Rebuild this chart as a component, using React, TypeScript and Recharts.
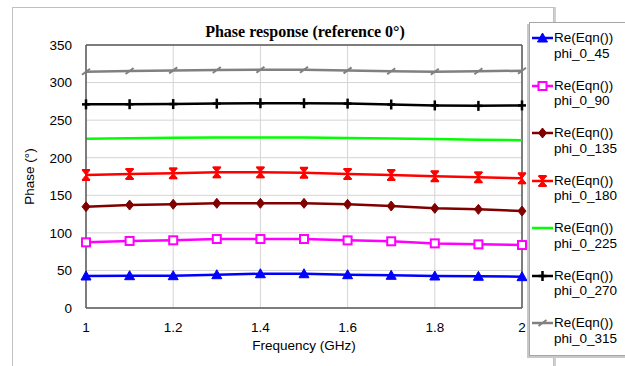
import React from 'react';
import { LineChart, Line, XAxis, YAxis, CartesianGrid, Legend, ReferenceLine } from 'recharts';

const freq = [1, 1.1, 1.2, 1.3, 1.4, 1.5, 1.6, 1.7, 1.8, 1.9, 2];
const phi45 = [42.6, 43, 43, 44.3, 45.6, 45.6, 44.3, 43.5, 42.6, 42.2, 41.7];
const phi90 = [87.4, 89.2, 90.1, 91.8, 91.8, 91.8, 90, 88.8, 86, 84.7, 83.8];
const phi135 = [134.8, 137, 138, 139.3, 139.3, 139.3, 138, 135.7, 132.6, 131.3, 129];
const phi180 = [177, 178.3, 179.2, 180.5, 180.5, 180, 178.3, 177, 175.3, 173.9, 172.6];
const phi225 = [225.3, 226, 226.6, 227, 227, 226.8, 226.3, 225.5, 224.8, 224, 223.2];
const phi270 = [271, 271.2, 271.4, 272, 272.5, 272.5, 272, 270.8, 269.6, 269, 269.6];
const phi315 = [314.5, 315.4, 316.2, 316.7, 317.1, 317.1, 316.2, 315, 314.5, 315, 315.8];

const xTicks = [1, 1.2, 1.4, 1.6, 1.8, 2];
const yTicks = [0, 50, 100, 150, 200, 250, 300, 350];

const data = freq.map((f, i) => ({
  f,
  phi_0_45: phi45[i],
  phi_0_90: phi90[i],
  phi_0_135: phi135[i],
  phi_0_180: phi180[i],
  phi_0_225: phi225[i],
  phi_0_270: phi270[i],
  phi_0_315: phi315[i],
}));

type Shape = 'triangle' | 'square' | 'diamond' | 'hourglass' | 'none' | 'plus' | 'slash';

const series: { key: string; color: string; shape: Shape }[] = [
  { key: 'phi_0_45', color: '#0000ff', shape: 'triangle' },
  { key: 'phi_0_90', color: '#ff00ff', shape: 'square' },
  { key: 'phi_0_135', color: '#800000', shape: 'diamond' },
  { key: 'phi_0_180', color: '#ff0000', shape: 'hourglass' },
  { key: 'phi_0_225', color: '#00ff00', shape: 'none' },
  { key: 'phi_0_270', color: '#000000', shape: 'plus' },
  { key: 'phi_0_315', color: '#808080', shape: 'slash' },
];

const font = '"Liberation Sans", Arial, sans-serif';

function marker(shape: Shape, color: string, cx: number, cy: number, key?: any) {
  switch (shape) {
    case 'triangle':
      return <path key={key} d={`M${cx - 5},${cy + 4} L${cx + 5},${cy + 4} L${cx},${cy - 5} Z`} fill={color} stroke={color} strokeWidth={1} />;
    case 'square':
      return <rect key={key} x={cx - 4} y={cy - 4} width={8} height={8} fill="#fff" stroke={color} strokeWidth={2} />;
    case 'diamond':
      return <path key={key} d={`M${cx},${cy - 5} L${cx + 4},${cy} L${cx},${cy + 5} L${cx - 4},${cy} Z`} fill={color} stroke={color} strokeWidth={1} />;
    case 'hourglass':
      return (
        <g key={key}>
          <path d={`M${cx - 4},${cy - 5} L${cx + 4},${cy - 5} L${cx - 4},${cy + 5} L${cx + 4},${cy + 5} Z`} fill={color} stroke={color} strokeWidth={1} />
          <line x1={cx - 4} y1={cy - 5} x2={cx + 4} y2={cy - 5} stroke={color} strokeWidth={2} />
          <line x1={cx - 4} y1={cy + 5} x2={cx + 4} y2={cy + 5} stroke={color} strokeWidth={2} />
        </g>
      );
    case 'plus':
      return (
        <g key={key}>
          <line x1={cx} y1={cy - 5} x2={cx} y2={cy + 5} stroke={color} strokeWidth={2.5} />
          <line x1={cx - 4} y1={cy} x2={cx + 4} y2={cy} stroke={color} strokeWidth={2.5} />
        </g>
      );
    case 'slash':
      return <line key={key} x1={cx - 4} y1={cy + 3} x2={cx + 4} y2={cy - 3} stroke={color} strokeWidth={2} />;
    default:
      return <g key={key} />;
  }
}

const makeDot = (shape: Shape, color: string) => (props: any) =>
  marker(shape, color, props.cx, props.cy, props.index);

function LegendBox() {
  return (
    <div
      style={{
        width: 100,
        height: 334,
        background: '#fff',
        border: '1px solid #a6a6a6',
        boxShadow: '-2px 2px 0 #c8c8c8',
        fontFamily: font,
        fontSize: 13.5,
        color: '#000',
        boxSizing: 'border-box',
        paddingTop: 7,
      }}
    >
      {series.map((s) => (
        <div key={s.key} style={{ display: 'flex', alignItems: 'flex-start', height: 47.5 }}>
          <svg width={24} height={16} style={{ flex: 'none', marginTop: 0 }}>
            <line x1={2} y1={8} x2={23} y2={8} stroke={s.color} strokeWidth={2.5} />
            {marker(s.shape, s.color, 12.5, 8)}
          </svg>
          <div style={{ lineHeight: '15.5px' }}>
            Re(Eqn())
            <br />
            {s.key}
          </div>
        </div>
      ))}
    </div>
  );
}

export default function App() {
  return (
    <div style={{ position: 'absolute', left: 0, top: 0, width: 625, height: 366, background: '#fff', overflow: 'hidden' }}>
      <div
        style={{
          position: 'absolute',
          left: 12,
          top: 7,
          width: 540,
          height: 380,
          border: '1px solid #c0c0c0',
          boxShadow: '2px 0 0 #d0d0d0',
        }}
      />
      <div
        style={{
          position: 'absolute',
          left: 0,
          top: 23,
          width: 610,
          textAlign: 'center',
          fontFamily: '"Liberation Serif", "Times New Roman", serif',
          fontWeight: 'bold',
          fontSize: 16,
        }}
      >
        Phase response (reference 0°)
      </div>
      <div style={{ position: 'absolute', left: 0, top: 0 }}>
        <LineChart width={625} height={366} data={data} margin={{ top: 45, right: 103, bottom: 18, left: 26 }}>
          <CartesianGrid stroke="#d4d4d4" strokeWidth={1} />
          <XAxis
            dataKey="f"
            type="number"
            domain={[1, 2]}
            ticks={xTicks}
            tickFormatter={(v: number) => String(v)}
            height={40}
            tickLine={false}
            tickSize={6}
            tickMargin={8}
            axisLine={{ stroke: '#595959', strokeWidth: 1.5 }}
            tick={{ fill: '#000', fontSize: 13.5, fontFamily: font }}
            label={{ value: 'Frequency (GHz)', position: 'insideBottom', offset: -2, fill: '#000', fontSize: 13.5, fontFamily: font }}
          />
          <YAxis
            type="number"
            domain={[0, 350]}
            ticks={yTicks}
            width={60}
            tickLine={false}
            tickSize={6}
            tickMargin={8}
            axisLine={{ stroke: '#595959', strokeWidth: 1.5 }}
            tick={{ fill: '#000', fontSize: 13.5, fontFamily: font }}
            label={{ value: 'Phase (°)', angle: -90, position: 'insideLeft', offset: 3, fill: '#000', fontSize: 13.5, fontFamily: font, style: { textAnchor: 'middle' } }}
          />
          <ReferenceLine y={350} stroke="#595959" strokeWidth={1.5} />
          <ReferenceLine x={2} stroke="#595959" strokeWidth={1.5} />
          {series.map((s) => (
            <Line
              key={s.key}
              dataKey={s.key}
              type="linear"
              stroke={s.color}
              strokeWidth={2.5}
              dot={s.shape === 'none' ? false : makeDot(s.shape, s.color)}
              activeDot={false}
              isAnimationActive={false}
            />
          ))}
          <Legend
            layout="vertical"
            align="center"
            verticalAlign="middle"
            wrapperStyle={{ left: 529, top: 22, width: 100, height: 334 }}
            content={() => <LegendBox />}
          />
        </LineChart>
      </div>
    </div>
  );
}
